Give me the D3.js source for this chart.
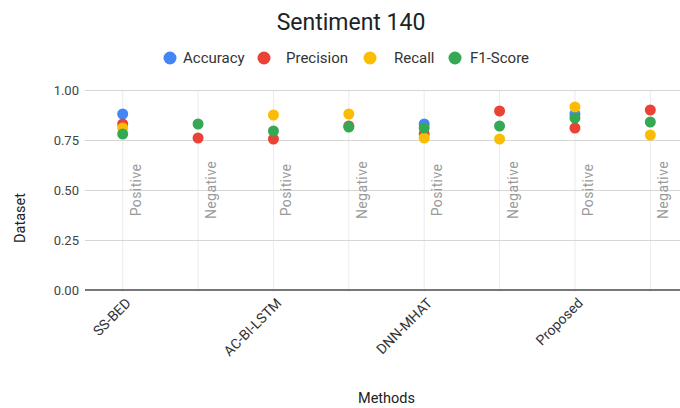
<!DOCTYPE html>
<html>
<head>
<meta charset="utf-8">
<script src="https://cdn.jsdelivr.net/npm/d3@7"></script>
<style>
  html, body { margin: 0; padding: 0; background: #fff; }
  svg { display: block; font-family: Roboto, Arial, sans-serif; }
</style>
</head>
<body>
<svg id="chart" width="680" height="408"></svg>
<script>
// Sentiment 140 scores per method and polarity
const methods = ["SS-BED", "AC-BI-LSTM", "DNN-MHAT", "Proposed"];
const polarities = ["Positive", "Negative"];
const seriesNames = ["Accuracy", "Precision", "Recall", "F1-Score"];
const seriesColors = ["#4285F4", "#EA4335", "#FBBC04", "#34A853"];

// one value per (method, polarity) column, in method order
const accuracy  = [0.88, null, null,  null,  0.83,  null,  0.88,  null];
const precision = [0.83, 0.76, 0.755, 0.82,  0.78,  0.895, 0.81,  0.90];
const recall    = [0.81, null, 0.875, 0.88,  0.76,  0.755, 0.915, 0.775];
const f1score   = [0.78, 0.83, 0.795, 0.815, 0.81,  0.82,  0.86,  0.84];

const yTicks = [0, 0.25, 0.5, 0.75, 1.0];

const series = [accuracy, precision, recall, f1score];
const columns = methods.flatMap(m => polarities.map(p => ({ method: m, polarity: p, key: m + "|" + p })));

const svg = d3.select("#chart");
const W = 680, H = 408;
const plot = { left: 85, right: 688, top: 90, bottom: 290 };

const x = d3.scaleBand().domain(columns.map(c => c.key)).range([plot.left, plot.right]);
const y = d3.scaleLinear().domain([0, 1]).range([plot.bottom, plot.top]);
const cx = k => x(k) + x.bandwidth() / 2;

// title
svg.append("text")
  .attr("x", 351).attr("y", 30)
  .attr("text-anchor", "middle")
  .attr("font-size", 23)
  .attr("fill", "#222")
  .text("Sentiment 140");

// legend
const legendItems = [
  { name: seriesNames[0], cx: 170, tx: 183 },
  { name: seriesNames[1], cx: 264, tx: 286 },
  { name: seriesNames[2], cx: 370, tx: 394 },
  { name: seriesNames[3], cx: 455, tx: 470 }
];
const lg = svg.append("g");
legendItems.forEach((it, i) => {
  lg.append("circle").attr("cx", it.cx).attr("cy", 58).attr("r", 6.5).attr("fill", seriesColors[i]);
  lg.append("text").attr("x", it.tx).attr("y", 63)
    .attr("font-size", 15).attr("fill", "#333").text(it.name);
});

// vertical gridlines
svg.append("g").selectAll("line").data(columns).join("line")
  .attr("x1", d => cx(d.key)).attr("x2", d => cx(d.key))
  .attr("y1", plot.top).attr("y2", plot.bottom + 2)
  .attr("stroke", "#ebebeb").attr("stroke-width", 1);

// y axis with horizontal gridlines
const yAxis = d3.axisLeft(y).tickValues(yTicks).tickFormat(d3.format(".2f"))
  .tickSize(-(W - plot.left)).tickPadding(6);
const yg = svg.append("g").attr("transform", `translate(${plot.left},0)`).call(yAxis);
yg.select(".domain").remove();
yg.selectAll(".tick line").attr("stroke", "#d6d6d6").attr("stroke-width", 1.2);
yg.selectAll(".tick text").attr("font-size", 13).attr("fill", "#444").attr("font-family", "Roboto, Arial, sans-serif");

// baseline
svg.append("line")
  .attr("x1", plot.left).attr("x2", W)
  .attr("y1", y(0)).attr("y2", y(0))
  .attr("stroke", "#777").attr("stroke-width", 2);

// polarity annotations
svg.append("g").selectAll("text").data(columns).join("text")
  .attr("transform", d => `translate(${cx(d.key) + 18},${y(0.5)}) rotate(-90)`)
  .attr("text-anchor", "middle")
  .attr("font-size", 14)
  .attr("fill", "#9a9a9a")
  .attr("letter-spacing", 0.4)
  .text(d => d.polarity);

// method labels on the x axis (first column of each method)
svg.append("g").selectAll("text").data(columns.filter(c => c.polarity === "Positive")).join("text")
  .attr("transform", d => `translate(${cx(d.key) + 9},${plot.bottom + 14}) rotate(-45)`)
  .attr("text-anchor", "end")
  .attr("font-size", 14)
  .attr("fill", "#333")
  .text(d => d.method);

// axis titles
svg.append("text")
  .attr("x", (plot.left + plot.right) / 2).attr("y", 403)
  .attr("text-anchor", "middle").attr("font-size", 14.5).attr("fill", "#222")
  .text("Methods");
svg.append("text")
  .attr("transform", `translate(25,218) rotate(-90)`)
  .attr("text-anchor", "middle").attr("font-size", 14.5).attr("fill", "#222")
  .text("Dataset");

// points
series.forEach((vals, si) => {
  svg.append("g").selectAll("circle")
    .data(columns.map((c, i) => ({ key: c.key, v: vals[i] })).filter(d => d.v != null))
    .join("circle")
    .attr("cx", d => cx(d.key))
    .attr("cy", d => y(d.v))
    .attr("r", 5.5)
    .attr("fill", seriesColors[si]);
});
</script>
</body>
</html>
